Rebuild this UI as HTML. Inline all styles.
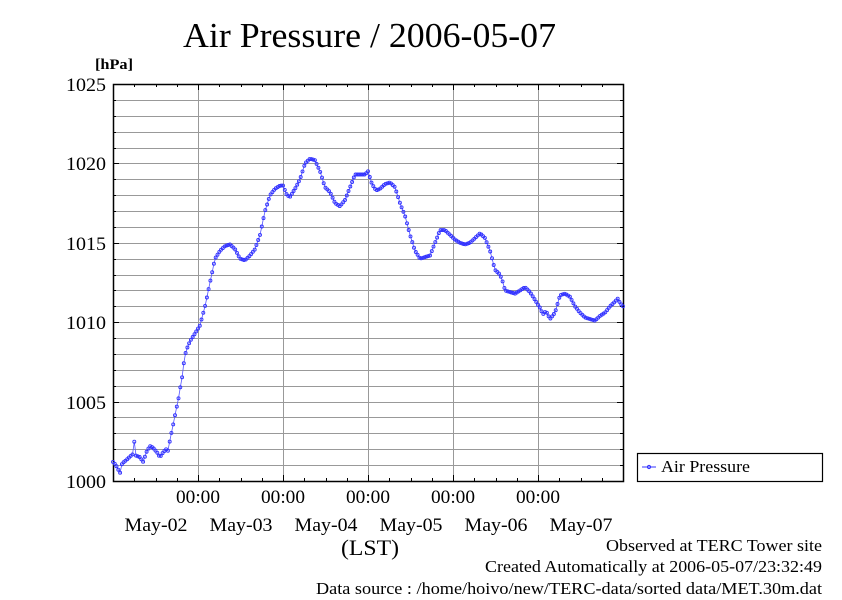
<!DOCTYPE html>
<html><head><meta charset="utf-8"><style>
body{margin:0;background:#fff;}
svg text{font-family:"Liberation Serif",serif;fill:#000;}
</style></head><body>
<svg id="s" width="842" height="595" xmlns="http://www.w3.org/2000/svg">
<rect width="842" height="595" fill="#fff"/>
<text x="183" y="47" font-size="35" textLength="373" lengthAdjust="spacingAndGlyphs">Air Pressure / 2006-05-07</text>
<text x="95" y="69" font-size="15" font-weight="bold" textLength="38" lengthAdjust="spacingAndGlyphs">[hPa]</text>
<g id="grid" stroke="#999" stroke-width="1"></g>
<g id="ticks" stroke="#000" stroke-width="1"></g>
<rect x="113.5" y="84.5" width="510" height="397" fill="none" stroke="#000" stroke-width="1.5"/>
<g font-size="19" text-anchor="end">
<text x="106" y="91" textLength="40" lengthAdjust="spacingAndGlyphs">1025</text><text x="106" y="170" textLength="40" lengthAdjust="spacingAndGlyphs">1020</text><text x="106" y="250" textLength="40" lengthAdjust="spacingAndGlyphs">1015</text>
<text x="106" y="329" textLength="40" lengthAdjust="spacingAndGlyphs">1010</text><text x="106" y="409" textLength="40" lengthAdjust="spacingAndGlyphs">1005</text><text x="106" y="488" textLength="40" lengthAdjust="spacingAndGlyphs">1000</text>
</g>
<g font-size="19" text-anchor="middle">
<text x="198" y="503" textLength="44" lengthAdjust="spacingAndGlyphs">00:00</text><text x="283" y="503" textLength="44" lengthAdjust="spacingAndGlyphs">00:00</text><text x="368" y="503" textLength="44" lengthAdjust="spacingAndGlyphs">00:00</text>
<text x="453" y="503" textLength="44" lengthAdjust="spacingAndGlyphs">00:00</text><text x="538" y="503" textLength="44" lengthAdjust="spacingAndGlyphs">00:00</text>
<text x="156" y="531" textLength="63" lengthAdjust="spacingAndGlyphs">May-02</text><text x="241" y="531" textLength="63" lengthAdjust="spacingAndGlyphs">May-03</text><text x="326" y="531" textLength="63" lengthAdjust="spacingAndGlyphs">May-04</text>
<text x="411" y="531" textLength="63" lengthAdjust="spacingAndGlyphs">May-05</text><text x="496" y="531" textLength="63" lengthAdjust="spacingAndGlyphs">May-06</text><text x="581" y="531" textLength="63" lengthAdjust="spacingAndGlyphs">May-07</text>
</g>
<text x="370" y="555" font-size="22" text-anchor="middle" textLength="58" lengthAdjust="spacingAndGlyphs">(LST)</text>
<g font-size="16.5" text-anchor="end">
<text x="822" y="551" textLength="216" lengthAdjust="spacingAndGlyphs">Observed at TERC Tower site</text>
<text x="822" y="572" textLength="337" lengthAdjust="spacingAndGlyphs">Created Automatically at 2006-05-07/23:32:49</text>
<text x="822" y="594" textLength="506" lengthAdjust="spacingAndGlyphs">Data source : /home/hoivo/new/TERC-data/sorted  data/MET.30m.dat</text>
</g>
<rect x="637.5" y="453.5" width="185" height="28" fill="none" stroke="#000" stroke-width="1.2"/>
<line x1="642" y1="467" x2="656" y2="467" stroke="#33f" stroke-width="1"/>
<circle cx="649" cy="467" r="1.6" fill="none" stroke="#33f" stroke-width="1"/>
<text x="661" y="472" font-size="17" textLength="89" lengthAdjust="spacingAndGlyphs">Air Pressure</text>
<g id="data"></g>
</svg>
<script>
var NS="http://www.w3.org/2000/svg";
function el(p,t,a){var e=document.createElementNS(NS,t);for(var k in a)e.setAttribute(k,a[k]);p.appendChild(e);return e;}
var g=document.getElementById('grid'),tk=document.getElementById('ticks');
function Y(v){return 481-(v-1000)*15.88;}
for(var v=1001;v<1025;v++){var y=Math.round(Y(v))+.5;el(g,'line',{x1:113,x2:623,y1:y,y2:y});
 var L=(v%5==0)?6:3;el(tk,'line',{x1:113,x2:113+L,y1:y,y2:y});el(tk,'line',{x1:623-L,x2:623,y1:y,y2:y});}
for(var d=1;d<6;d++){var x=Math.round(113+85*d)+.5;el(g,'line',{x1:x,x2:x,y1:84,y2:481});}
for(var i=1;i<24;i++){var x=Math.round(113+85*i/4)+.5;var L=(i%4==0)?6:3;
 el(tk,'line',{x1:x,x2:x,y1:481,y2:481-L});el(tk,'line',{x1:x,x2:x,y1:84,y2:84+L});}
var P=[[113,1001.2],[116,1001],[120,1000.5],[122,1001.1],[126,1001.3],[131,1001.6],[133,1001.7],[134,1002.6],[136,1001.6],[140,1001.5],[143,1001.2],[147,1001.9],[150,1002.2],[153,1002.1],[157,1001.8],[160,1001.5],[163,1001.8],[166,1002],[168,1001.9],[170,1002.6],[172,1003.2],[174,1003.8],[176,1004.5],[178,1005],[180,1005.8],[182,1006.5],[184,1007.5],[186,1008.2],[190,1008.8],[195,1009.3],[200,1009.8],[205,1011],[210,1012.5],[215,1014],[220,1014.5],[225,1014.8],[230,1014.9],[235,1014.6],[240,1014],[245,1013.9],[250,1014.2],[255,1014.6],[260,1015.5],[265,1017],[270,1018],[275,1018.4],[280,1018.6],[283,1018.6],[287,1018],[290,1017.9],[295,1018.4],[300,1019],[305,1020],[310,1020.3],[315,1020.2],[320,1019.5],[325,1018.5],[330,1018.2],[335,1017.5],[340,1017.3],[345,1017.7],[350,1018.5],[355,1019.3],[360,1019.3],[365,1019.3],[368,1019.5],[372,1018.7],[376,1018.3],[380,1018.4],[385,1018.7],[390,1018.8],[395,1018.5],[400,1017.5],[405,1016.7],[410,1015.5],[415,1014.5],[420,1014],[425,1014.1],[430,1014.2],[435,1015],[440,1015.8],[445,1015.8],[450,1015.5],[455,1015.2],[460,1015],[465,1014.9],[470,1015],[475,1015.3],[480,1015.6],[485,1015.3],[490,1014.5],[495,1013.3],[500,1013],[503,1012.5],[505,1012],[510,1011.9],[515,1011.8],[520,1012],[525,1012.2],[530,1011.9],[535,1011.4],[540,1010.9],[543,1010.5],[546,1010.7],[550,1010.2],[555,1010.6],[560,1011.7],[565,1011.8],[570,1011.6],[575,1011],[580,1010.6],[585,1010.3],[590,1010.2],[595,1010.1],[600,1010.4],[605,1010.6],[610,1011],[615,1011.3],[618,1011.5],[620,1011.2],[623,1011]];
function interp(x){for(var i=1;i<P.length;i++){if(x<=P[i][0]){var a=P[i-1],b=P[i];return a[1]+(b[1]-a[1])*(x-a[0])/(b[0]-a[0]);}}return P[P.length-1][1];}
var dg=document.getElementById('data'),pts=[];
for(var i=0;i<=288;i++){var x=113+i*510/288;pts.push(x.toFixed(1)+','+Y(interp(x)).toFixed(1));}
el(dg,'polyline',{points:pts.join(' '),fill:'none',stroke:'#55f','stroke-width':0.8});
pts.forEach(function(p){var q=p.split(',');el(dg,'circle',{cx:q[0],cy:q[1],r:1.5,fill:'none',stroke:'#33f','stroke-width':0.9});});
</script>
</body></html>
